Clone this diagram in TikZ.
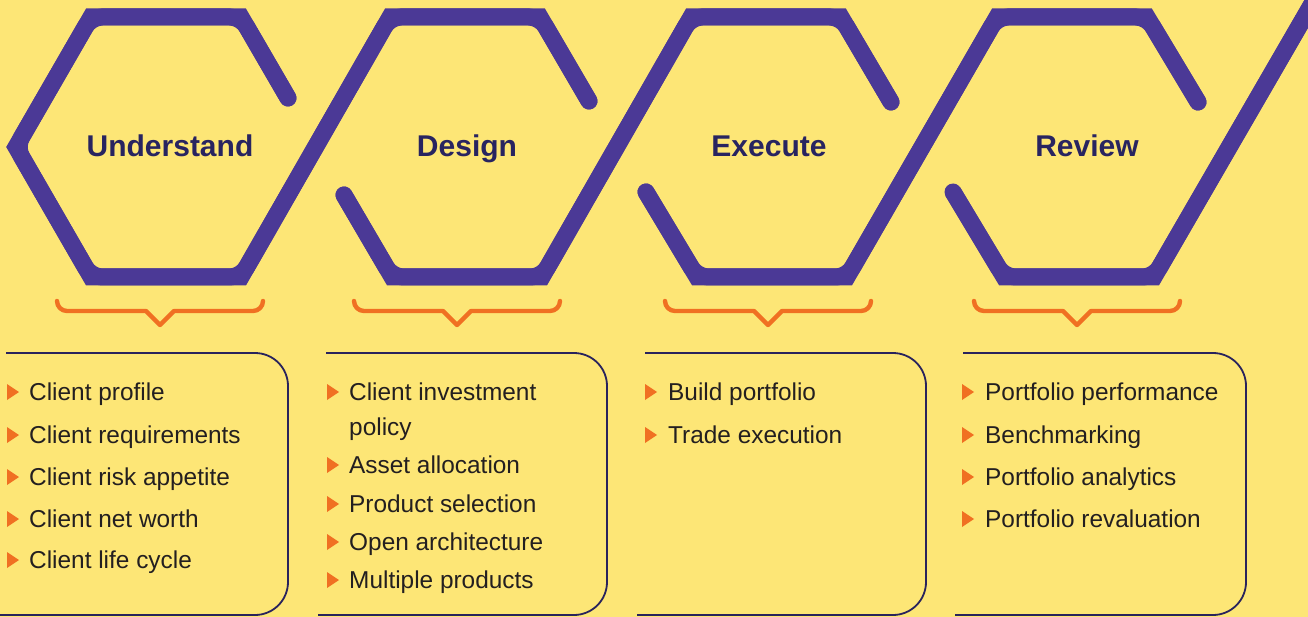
\documentclass[tikz,border=0pt]{standalone}
\usepackage{fontspec}
\setmainfont{Liberation Sans}
\usepackage{xcolor}
\definecolor{bgyellow}{RGB}{253,230,118}
\definecolor{hexpurple}{RGB}{75,57,150}
\definecolor{braceorange}{RGB}{240,112,34}
\definecolor{boxnavy}{RGB}{41,35,92}
\definecolor{headnavy}{RGB}{40,36,96}
\definecolor{itemgray}{RGB}{35,31,32}

\begin{document}
\begin{tikzpicture}[x=1pt,y=-1pt]
\tikzset{hexline/.style={draw=hexpurple,line width=17pt,line cap=round}}
\tikzstyle{hexround}=[hexline,rounded corners=11pt]
\tikzstyle{brace}=[draw=braceorange,line width=4.4pt,line cap=round,line join=round]
\tikzstyle{listbox}=[draw=boxnavy,line width=1.8pt]
\tikzstyle{head}=[text=headnavy,font=\fontsize{30}{36}\selectfont\bfseries,anchor=base,inner sep=0pt]
\tikzstyle{item}=[text=itemgray,font=\fontsize{24.4}{29}\selectfont,anchor=base west,inner sep=0pt]
\tikzstyle{bullet}=[fill=braceorange]

\useasboundingbox (0,0) rectangle (1308,617);
\fill[bgyellow] (0,0) rectangle (1308,617);
\clip (0,0) rectangle (1308,617);

% hexagon chain
\draw[hexline] (288,98) -- (241,17) -- (91,17) -- (16,147) -- (91,277) -- (241,277) -- (390,17) -- (540,17) -- (589,101);
\draw[hexround] (288,98) -- (241,17) -- (91,17) -- (16,147) -- (91,277) -- (241,277) -- (390,17) -- (540,17) -- (589,101);
\draw[hexline] (344,195) -- (392,277) -- (542,277) -- (691,17) -- (841,17) -- (891,102);
\draw[hexround] (344,195) -- (392,277) -- (542,277) -- (691,17) -- (841,17) -- (891,102);
\draw[hexline] (646,192) -- (697,277) -- (847,277) -- (997,17) -- (1147,17) -- (1198,102);
\draw[hexround] (646,192) -- (697,277) -- (847,277) -- (997,17) -- (1147,17) -- (1198,102);
\draw[hexline,line cap=butt] (953,192) -- (1004,277) -- (1154,277) -- (1316,-3);
\draw[hexround,line cap=butt] (953,192) -- (1004,277) -- (1154,277) -- (1316,-3);
\fill[hexpurple] (953,192) circle (8.5);

\node[head] (understand) at (170,157) {Understand};
\node[head] (design) at (467,157) {Design};
\node[head] (execute) at (769,157) {Execute};
\node[head] (review) at (1087,157) {Review};

% braces
\draw[brace] (57,301) arc[start angle=180,end angle=90,radius=10] -- (146,311) -- (160,325) -- (174,311) -- (253,311) arc[start angle=90,end angle=0,radius=10];
\draw[brace] (354,301) arc[start angle=180,end angle=90,radius=10] -- (443,311) -- (457,325) -- (471,311) -- (550,311) arc[start angle=90,end angle=0,radius=10];
\draw[brace] (665,301) arc[start angle=180,end angle=90,radius=10] -- (754,311) -- (768,325) -- (782,311) -- (861,311) arc[start angle=90,end angle=0,radius=10];
\draw[brace] (974,301) arc[start angle=180,end angle=90,radius=10] -- (1063,311) -- (1077,325) -- (1091,311) -- (1170,311) arc[start angle=90,end angle=0,radius=10];

% boxes
\draw[listbox] (6,353) -- (255,353) arc[start angle=-90,end angle=0,radius=33] -- (288,582) arc[start angle=0,end angle=90,radius=33] -- (0,615);
\draw[listbox] (326,353) -- (574,353) arc[start angle=-90,end angle=0,radius=33] -- (607,582) arc[start angle=0,end angle=90,radius=33] -- (318,615);
\draw[listbox] (645,353) -- (893,353) arc[start angle=-90,end angle=0,radius=33] -- (926,582) arc[start angle=0,end angle=90,radius=33] -- (637,615);
\draw[listbox] (963,353) -- (1213,353) arc[start angle=-90,end angle=0,radius=33] -- (1246,582) arc[start angle=0,end angle=90,radius=33] -- (955,615);

% understand items
\fill[bullet] (7,384) -- (19,392) -- (7,400) -- cycle;
\fill[bullet] (7,427) -- (19,435) -- (7,443) -- cycle;
\fill[bullet] (7,469) -- (19,477) -- (7,485) -- cycle;
\fill[bullet] (7,511) -- (19,519) -- (7,527) -- cycle;
\fill[bullet] (7,552) -- (19,560) -- (7,568) -- cycle;
\node[item] (u1) at (29,400) {Client profile};
\node[item] (u2) at (29,443) {Client requirements};
\node[item] (u3) at (29,485) {Client risk appetite};
\node[item] (u4) at (29,527) {Client net worth};
\node[item] (u5) at (29,568) {Client life cycle};

% design items
\fill[bullet] (327,384) -- (339,392) -- (327,400) -- cycle;
\fill[bullet] (327,457) -- (339,465) -- (327,473) -- cycle;
\fill[bullet] (327,496) -- (339,504) -- (327,512) -- cycle;
\fill[bullet] (327,534) -- (339,542) -- (327,550) -- cycle;
\fill[bullet] (327,572) -- (339,580) -- (327,588) -- cycle;
\node[item] (d1) at (349,400) {Client investment};
\node[item] (d1b) at (349,435) {policy};
\node[item] (d2) at (349,473) {Asset allocation};
\node[item] (d3) at (349,512) {Product selection};
\node[item] (d4) at (349,550) {Open architecture};
\node[item] (d5) at (349,588) {Multiple products};

% execute items
\fill[bullet] (645,384) -- (657,392) -- (645,400) -- cycle;
\fill[bullet] (645,427) -- (657,435) -- (645,443) -- cycle;
\node[item] (e1) at (668,400) {Build portfolio};
\node[item] (e2) at (668,443) {Trade execution};

% review items
\fill[bullet] (962,384) -- (974,392) -- (962,400) -- cycle;
\fill[bullet] (962,427) -- (974,435) -- (962,443) -- cycle;
\fill[bullet] (962,469) -- (974,477) -- (962,485) -- cycle;
\fill[bullet] (962,511) -- (974,519) -- (962,527) -- cycle;
\node[item] (r1) at (985,400) {Portfolio performance};
\node[item] (r2) at (985,443) {Benchmarking};
\node[item] (r3) at (985,485) {Portfolio analytics};
\node[item] (r4) at (985,527) {Portfolio revaluation};
\end{tikzpicture}
\end{document}
